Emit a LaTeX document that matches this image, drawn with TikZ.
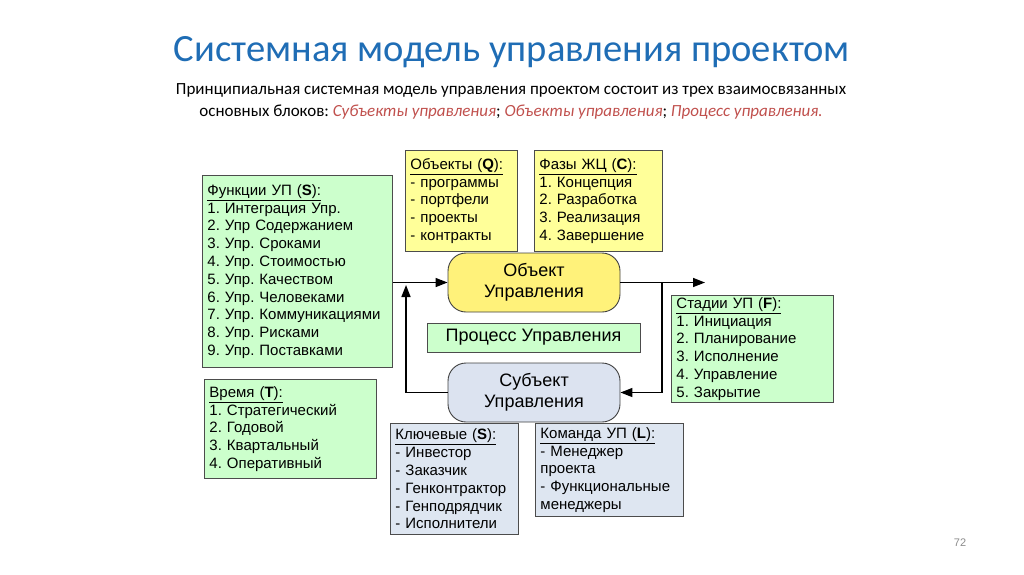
\documentclass[tikz,border=0pt]{standalone}
\usepackage{fontspec}
\setmainfont{Liberation Sans}
\newfontfamily\calibri{Carlito}
\usetikzlibrary{positioning,arrows.meta}
\definecolor{titleblue}{HTML}{1F6DB5}
\definecolor{notered}{HTML}{C0504D}
\definecolor{greenfill}{HTML}{CCFFCC}
\definecolor{yellowfill}{HTML}{FFFF99}
\definecolor{bluefill}{HTML}{DEE6F1}
\definecolor{objfill}{HTML}{FFF27A}
\definecolor{subjfill}{HTML}{DCE3F0}
\newcommand{\hdr}[2]{\underline{#1 (\textbf{#2}):}}
\frenchspacing

\begin{document}
\begin{tikzpicture}[x=1pt,y=1pt]
    \tikzstyle{every node}=[inner sep=0]
    \tikzstyle{box}=[draw=black!70,line width=0.9,anchor=north west,align=left,inner xsep=5,font=\fontsize{15}{17.8}\selectfont]
    \tikzstyle{greenbox}=[box,fill=greenfill]
    \tikzstyle{yellowbox}=[box,fill=yellowfill]
    \tikzstyle{bluebox}=[box,fill=bluefill]
    \tikzstyle{core}=[draw=black!75,line width=0.9,rounded corners=18,minimum width=172,minimum height=59,align=center,font=\fontsize{18}{21}\selectfont]
    \tikzstyle{arr}=[draw=black,line width=1.5,-{Triangle[length=12,width=9]}]
    \useasboundingbox (0,0) rectangle (1024,-574);

    % titles
    \node[text=titleblue,font=\calibri\fontsize{38.6}{42}\selectfont] (title) at (512,-52) {Системная модель управления проектом};
    \node[align=center,font=\calibri\fontsize{17}{22}\selectfont] (intro) at (511,-101)
        {Принципиальная системная модель управления проектом состоит из трех взаимосвязанных\\
         основных блоков: \textcolor{notered}{\itshape Субъекты управления}; \textcolor{notered}{\itshape Объекты управления}; \textcolor{notered}{\itshape Процесс управления.}};

    % left column
    \node[greenbox,text width=180,minimum height=192] (func) at (202,-175)
        {\hdr{Функции УП}{S}\\ 1. Интеграция Упр.\\ 2. Упр Содержанием\\ 3. Упр. Сроками\\ 4. Упр. Стоимостью\\
         5. Упр. Качеством\\ 6. Упр. Человеками\\ 7. Упр. Коммуникациями\\ 8. Упр. Рисками\\ 9. Упр. Поставками};
    \node[greenbox,text width=162,minimum height=99] (time) at (204,-379)
        {\hdr{Время}{T}\\ 1. Стратегический\\ 2. Годовой\\ 3. Квартальный\\ 4. Оперативный};

    % top row
    \node[yellowbox,text width=102,minimum height=101] (objs) at (405,-150)
        {\hdr{Объекты}{Q}\\ - программы\\ - портфели\\ - проекты\\ - контракты};
    \node[yellowbox,text width=118,minimum height=101] (phase) at (534,-150)
        {\hdr{Фазы ЖЦ}{C}\\ 1. Концепция\\ 2. Разработка\\ 3. Реализация\\ 4. Завершение};

    % centre
    \node[core,fill=objfill] (obj) at (534,-282.5) {Объект\\ Управления};
    \node[draw=black!70,line width=0.9,fill=greenfill,minimum width=213,minimum height=29,font=\fontsize{18}{21}\selectfont] (proc) at (533.5,-337.5) {Процесс Управления};
    \node[core,fill=subjfill] (subj) at (534,-392.5) {Субъект\\ Управления};

    % right
    \node[greenbox,text width=152,minimum height=107] (stage) at (671,-295)
        {\hdr{Стадии УП}{F}\\ 1. Инициация\\ 2. Планирование\\ 3. Исполнение\\ 4. Управление\\ 5. Закрытие};

    % bottom row
    \node[bluebox,text width=118,minimum height=111] (key) at (390,-423)
        {\hdr{Ключевые}{S}\\ - Инвестор\\ - Заказчик\\ - Генконтрактор\\ - Генподрядчик\\ - Исполнители};
    \node[bluebox,text width=138,minimum height=93] (team) at (535,-423)
        {\hdr{Команда УП}{L}\\ - Менеджер\\ проекта\\ - Функциональные\\ менеджеры};

    % connectors
    \coordinate (lj) at (406,-285);
    \coordinate (rj) at (662,-282.5);
    \coordinate (rout) at (705,-282.5);
    \draw[arr] (func.east |- obj.west) -- (obj.west);
    \draw[arr] (subj.west) -| (lj);
    \draw[arr] (obj.east) -- (rout);
    \draw[arr] (rj) |- (subj.east);

    \node[text=black!45,font=\fontsize{11}{12}\selectfont] (page) at (960,-543) {72};
\end{tikzpicture}
\end{document}
